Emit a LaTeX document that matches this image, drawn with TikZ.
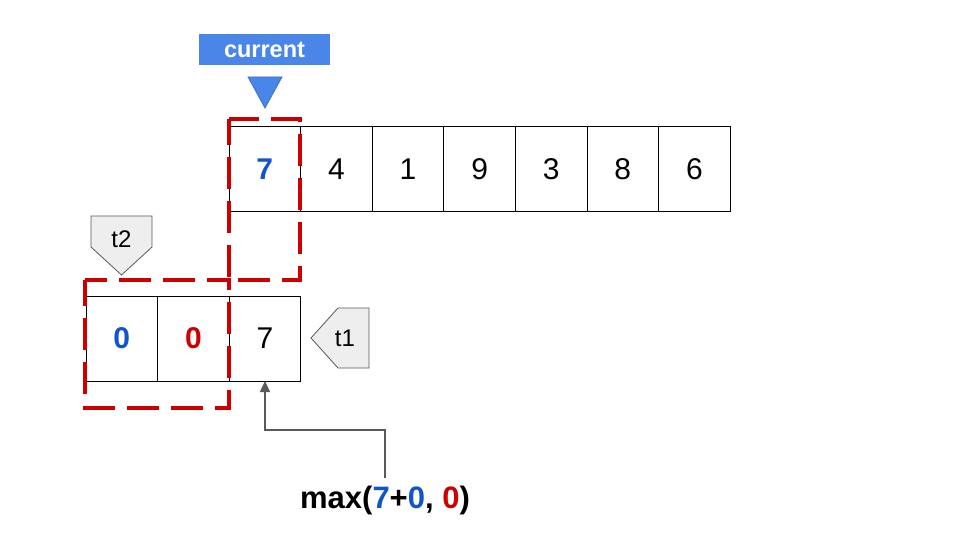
\documentclass[tikz,border=0pt]{standalone}
\usepackage{fontspec}
\setmainfont{Liberation Sans}
\usetikzlibrary{positioning,arrows.meta}
\definecolor{numblue}{HTML}{1155CC}
\definecolor{numred}{HTML}{CC0000}
\definecolor{tagblue}{HTML}{4A86E8}
\definecolor{taggray}{HTML}{EEEEEE}
\definecolor{linkgray}{HTML}{595959}
\begin{document}
\begin{tikzpicture}[x=1pt, y=-1pt, >={Triangle[length=11pt, width=10pt]},
    cell/.style={draw, line width=1pt, outer sep=0pt, inner sep=0pt, minimum width=71.6pt, minimum height=84pt, font=\fontsize{30}{34}\selectfont},
    window/.style={draw=numred, line width=4.5pt, dash pattern=on 32pt off 12pt, dash phase=6pt},
    tag/.style={fill=taggray, draw=linkgray, line width=0.8pt}]
  \useasboundingbox (0,0) rectangle (960,540);
  % pointer to the current element
  \node[fill=tagblue, minimum width=131pt, minimum height=31pt, inner sep=0pt, text=white, font=\fontsize{23.5}{26}\selectfont\bfseries] (current) at (264.5,49.5) {current};
  \fill[tagblue, draw=tagblue!85!black, line width=0.8pt] (248,77) -- (282,77) -- (265,108) -- cycle;
  % input array
  \node[cell, text=numblue, font=\fontsize{30}{34}\selectfont\bfseries] (top1) at (264.8,169) {7};
  \foreach \v [count=\i from 2, evaluate=\i as \j using int(\i-1)] in {4,1,9,3,8,6}
    \node[cell, right=0pt of top\j] (top\i) {\v};
  % dp row
  \node[cell, minimum height=85pt, text=numblue, font=\fontsize{30}{34}\selectfont\bfseries] (bot1) at (121.8,338.5) {0};
  \node[cell, minimum height=85pt, right=0pt of bot1, text=numred, font=\fontsize{30}{34}\selectfont\bfseries] (bot2) {0};
  \node[cell, minimum height=85pt, right=0pt of bot2] (bot3) {7};
  % windows
  \draw[window] (229,119) rectangle (300,280);
  \draw[window] (85,280) rectangle (229,408);
  % tags
  \draw[tag] (91,216) -- (152,216) -- (152,247) -- (121.5,275) -- (91,247) -- cycle;
  \node[font=\fontsize{24}{28}\selectfont] (t2) at (121.5,239) {t2};
  \draw[tag] (369,308) -- (338,308) -- (311,338) -- (338,368) -- (369,368) -- cycle;
  \node[font=\fontsize{24}{28}\selectfont] (t1) at (345,338) {t1};
  % formula
  \node[font=\fontsize{31}{35}\selectfont\bfseries] (formula) at (385,500) {max(\textcolor{numblue}{7}+\textcolor{numblue}{0}, \textcolor{numred}{0})};
  \coordinate (src) at (385,478);
  \draw[->, linkgray, line width=1.5pt] (src) -- (385,430) -| (bot3.south);
\end{tikzpicture}
\end{document}
